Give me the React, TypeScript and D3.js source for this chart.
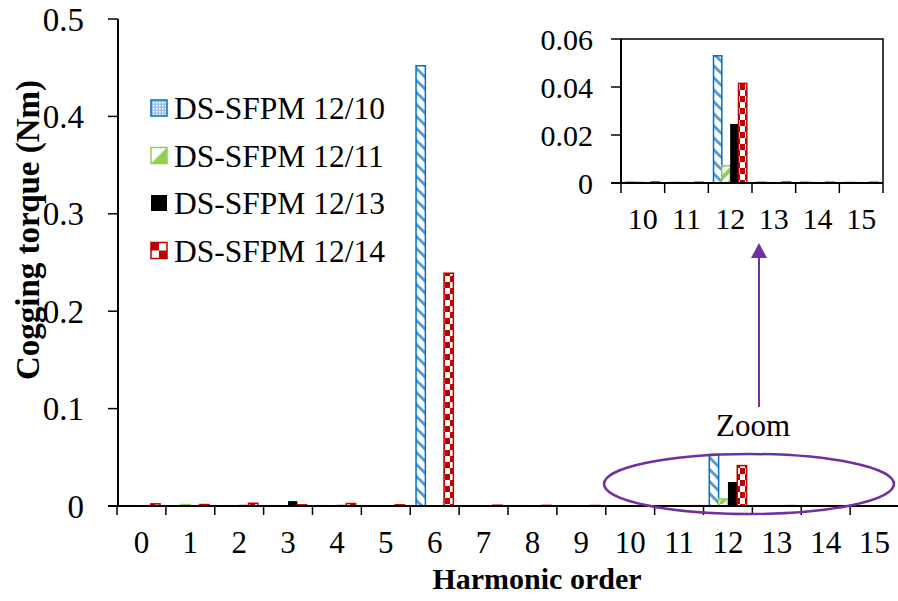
import React from "react";
import * as d3 from "d3";

const harmonics = ["0","1","2","3","4","5","6","7","8","9","10","11","12","13","14","15"];
const seriesNames = ["DS-SFPM 12/10", "DS-SFPM 12/11", "DS-SFPM 12/13", "DS-SFPM 12/14"];
const s1210 = [0.0003,0.0003,0.0003,0.0003,0.0003,0.0003,0.452,0.0003,0.0003,0.0003,0.0003,0.0002,0.053,0.0003,0.0003,0.0002];
const s1211 = [0.0003,0.0015,0.0003,0.0003,0.0003,0.0003,0.0002,0.0003,0.0003,0.0003,0.0003,0.0002,0.0072,0.0002,0.0002,0.0002];
const s1213 = [0.0008,0.0008,0.0012,0.005,0.0012,0.0008,0.0002,0.0003,0.0003,0.0003,0.0004,0.0004,0.0246,0.0003,0.0004,0.0003];
const s1214 = [0.0022,0.0015,0.0028,0.0012,0.0025,0.0012,0.239,0.0008,0.0006,0.0005,0.0004,0.0003,0.0415,0.0004,0.0003,0.0003];
const mainYTicks = [0, 0.1, 0.2, 0.3, 0.4, 0.5];
const insetHarmonics = ["10","11","12","13","14","15"];
const insetYTicks = [0, 0.02, 0.04, 0.06];

const seriesValues = [s1210, s1211, s1213, s1214];
const fills = ["url(#blueStripe)", "url(#greenStripe)", "#000000", "url(#redCheck)"];
const strokes = ["#0070c0", "#92d050", "#000000", "#c00000"];
const legendFills = ["url(#blueDots)", "url(#greenHalf)", "#000000", "url(#redCheckL)"];

const FONT = "'Liberation Serif', 'Times New Roman', serif";
const fmt = (v: number) => (v === 0 ? "0" : String(+v.toFixed(2)));

function Bars({ x, y, cats }: { x: d3.ScaleBand<string>; y: d3.ScaleLinear<number, number>; cats: string[] }) {
  const inner = d3.scaleBand<number>().domain([0, 1, 2, 3]).range([0, x.bandwidth()]).paddingOuter(0.62).paddingInner(0);
  return (
    <g>
      {cats.map((c) => {
        const idx = harmonics.indexOf(c);
        return seriesValues.map((vals, si) => {
          const v = vals[idx];
          const x0 = (x(c) as number) + (inner(si) as number);
          const h = y(0) - y(v);
          return (
            <rect key={c + "-" + si} x={x0} y={y(v)} width={inner.bandwidth()} height={Math.max(h, 0)}
              fill={fills[si]} stroke={strokes[si]} strokeWidth={si === 2 ? 0 : 1.5} />
          );
        });
      })}
    </g>
  );
}

export default function App() {
  const x = d3.scaleBand<string>().domain(harmonics).range([117, 899]).padding(0);
  const y = d3.scaleLinear().domain([0, 0.5]).range([506, 19]);
  const xi = d3.scaleBand<string>().domain(insetHarmonics).range([621, 883]).padding(0);
  const yi = d3.scaleLinear().domain([0, 0.06]).range([183, 39]);
  const purple = "#7030a0";

  const xTickPos = harmonics.map((h) => x(h) as number).concat([x.range()[1]]);
  const xiTickPos = insetHarmonics.map((h) => xi(h) as number).concat([xi.range()[1]]);

  return (
    <svg width={898} height={601} style={{ position: "absolute", left: 0, top: 0, background: "#fff" }} fontFamily={FONT}>
      <defs>
        <pattern id="blueStripe" patternUnits="userSpaceOnUse" width={12} height={12}>
          <rect width={12} height={12} fill="#fff" />
          <path d="M-2,-2 L14,14 M-8,4 L2,14 M4,-8 L14,2" stroke="#5b9bd5" strokeWidth={3} />
        </pattern>
        <pattern id="greenStripe" patternUnits="userSpaceOnUse" width={12} height={12}>
          <rect width={12} height={12} fill="#fff" />
          <path d="M-2,14 L14,-2" stroke="#92d050" strokeWidth={4} />
        </pattern>
        <pattern id="redCheck" patternUnits="userSpaceOnUse" width={10} height={12}>
          <rect width={10} height={12} fill="#fff" />
          <rect x={0} y={0} width={5} height={6} fill="#c00000" />
          <rect x={5} y={6} width={5} height={6} fill="#c00000" />
        </pattern>
        <pattern id="blueDots" patternUnits="userSpaceOnUse" width={3} height={3}>
          <rect width={3} height={3} fill="#9dc3e6" />
          <rect width={1.5} height={1.5} fill="#ffffff" />
        </pattern>
        <pattern id="greenHalf" patternUnits="objectBoundingBox" width={1} height={1} patternContentUnits="objectBoundingBox">
          <rect width={1} height={1} fill="#fff" />
          <path d="M1,0 L1,1 L0,1 Z" fill="#92d050" />
        </pattern>
        <pattern id="redCheckL" patternUnits="objectBoundingBox" width={1} height={1} patternContentUnits="objectBoundingBox">
          <rect width={1} height={1} fill="#c00000" />
          <rect x={0.5} y={0} width={0.5} height={0.5} fill="#fff" />
          <rect x={0} y={0.5} width={0.5} height={0.5} fill="#fff" />
        </pattern>
      </defs>

      {/* main bars */}
      <Bars x={x} y={y} cats={harmonics} />

      {/* main axes */}
      <line x1={118} x2={118} y1={y(0.5)} y2={y(0)} stroke="#000" strokeWidth={2} />
      {mainYTicks.map((t) => (
        <g key={"yt" + t}>
          <line x1={108} x2={118} y1={y(t)} y2={y(t)} stroke="#000" strokeWidth={1.5} />
          <text x={84} y={y(t)} dy="0.35em" textAnchor="end" fontSize={33}>{fmt(t)}</text>
        </g>
      ))}
      <line x1={108} x2={898} y1={y(0)} y2={y(0)} stroke="#000" strokeWidth={2} />
      {xTickPos.map((p, i) => (
        <line key={"xt" + i} x1={p} x2={p} y1={y(0)} y2={y(0) + 9} stroke="#000" strokeWidth={1.5} />
      ))}
      {harmonics.map((h) => (
        <text key={"xl" + h} x={(x(h) as number) + x.bandwidth() / 2} y={553} textAnchor="middle" fontSize={31}>{h}</text>
      ))}
      <text x={537} y={589} textAnchor="middle" fontSize={30} fontWeight="bold">Harmonic order</text>
      <text transform={`translate(39,230) rotate(-90)`} textAnchor="middle" fontSize={33} fontWeight="bold">Cogging torque (Nm)</text>

      {/* legend */}
      {seriesNames.map((n, i) => (
        <g key={"lg" + i} transform={`translate(0, ${108 + i * 47.5})`}>
          <rect x={151} y={-8} width={16} height={16} fill={legendFills[i]} stroke={strokes[i]} strokeWidth={i === 2 ? 0 : 1.5} />
          <text x={174} y={0} dy="0.35em" fontSize={31.5}>{n}</text>
        </g>
      ))}

      {/* inset */}
      <rect x={621} y={39} width={262} height={144} fill="#fff" />
      <Bars x={xi} y={yi} cats={insetHarmonics} />
      <path d={`M621,39 L883,39 L883,183`} fill="none" stroke="#000" strokeWidth={1.5} />
      <line x1={621} x2={621} y1={39} y2={183} stroke="#000" strokeWidth={2} />
      <line x1={611} x2={883} y1={183} y2={183} stroke="#000" strokeWidth={2} />
      {insetYTicks.map((t) => (
        <g key={"iyt" + t}>
          <line x1={611} x2={621} y1={yi(t)} y2={yi(t)} stroke="#000" strokeWidth={1.5} />
          <text x={593} y={yi(t)} dy="0.35em" textAnchor="end" fontSize={30}>{fmt(t)}</text>
        </g>
      ))}
      {xiTickPos.map((p, i) => (
        <line key={"ixt" + i} x1={p} x2={p} y1={183} y2={193} stroke="#000" strokeWidth={1.5} />
      ))}
      {insetHarmonics.map((h) => (
        <text key={"ixl" + h} x={(xi(h) as number) + xi.bandwidth() / 2} y={229} textAnchor="middle" fontSize={30}>{h}</text>
      ))}

      {/* zoom annotation */}
      <ellipse cx={749} cy={484} rx={145} ry={30} fill="none" stroke={purple} strokeWidth={2.5} />
      <line x1={759} x2={759} y1={407} y2={256} stroke={purple} strokeWidth={2} />
      <path d="M759,243 L751,258 L767,258 Z" fill={purple} />
      <text x={753} y={436} textAnchor="middle" fontSize={31}>Zoom</text>
    </svg>
  );
}
